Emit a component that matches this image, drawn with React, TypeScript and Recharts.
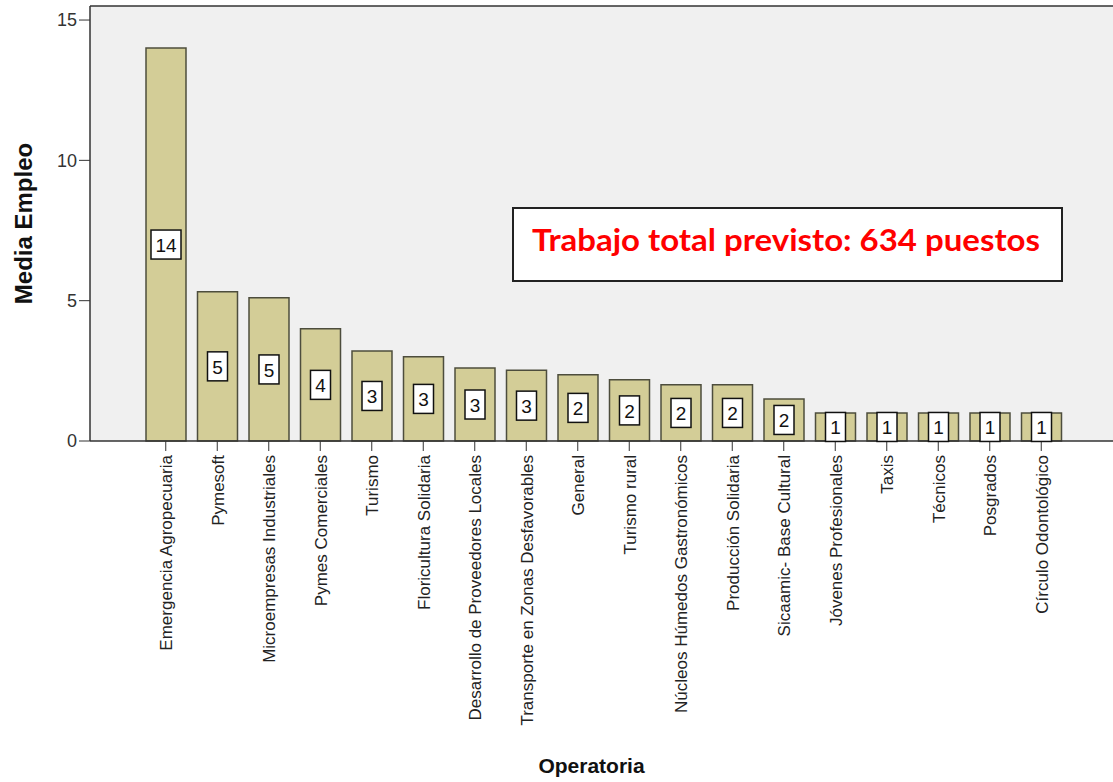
import React from 'react';
import { BarChart, Bar, XAxis, YAxis, CartesianGrid, ReferenceLine, LabelList } from 'recharts';

const categories = [
  'Emergencia Agropecuaria',
  'Pymesoft',
  'Microempresas Industriales',
  'Pymes Comerciales',
  'Turismo',
  'Floricultura Solidaria',
  'Desarrollo de Proveedores Locales',
  'Transporte en Zonas Desfavorables',
  'General',
  'Turismo rural',
  'Núcleos Húmedos Gastronómicos',
  'Producción Solidaria',
  'Sicaamic- Base Cultural',
  'Jóvenes Profesionales',
  'Taxis',
  'Técnicos',
  'Posgrados',
  'Círculo Odontológico',
];

const meanEmployment = [14.0, 5.32, 5.1, 4.0, 3.21, 3.0, 2.6, 2.52, 2.36, 2.18, 2.0, 2.0, 1.5, 1.0, 1.0, 1.0, 1.0, 1.0];

const yTicks = [0, 5, 10, 15];
const yMax = 15.5;

const yTitle = 'Media Empleo';
const xTitle = 'Operatoria';
const annotationText = 'Trabajo total previsto: 634 puestos';

const data = categories.map((name, i) => ({ name, value: meanEmployment[i] }));

const FONT = '"Liberation Sans", Arial, sans-serif';

const ValueLabel = (props: any) => {
  const { x, y, width, height, value } = props;
  const label = String(Math.round(Number(value)));
  const w = label.length * 10 + 10;
  const h = 29;
  const cx = Number(x) + Number(width) / 2;
  const cy = Number(y) + Number(height) / 2;
  return (
    <g>
      <rect x={cx - w / 2} y={cy - h / 2} width={w} height={h} fill="#ffffff" stroke="#111111" strokeWidth={1.5} />
      <text x={cx} y={cy + 1} textAnchor="middle" dominantBaseline="central" fontSize={19} fill="#111111" fontFamily={FONT}>
        {label}
      </text>
    </g>
  );
};

const XTick = (props: any) => {
  const { x, y, payload } = props;
  return (
    <g transform={`translate(${x},${y})`}>
      <text transform="rotate(-90)" x={-2} y={0} dy="0.38em" textAnchor="end" fontSize={17} fill="#222222" fontFamily={FONT}>
        {payload.value}
      </text>
    </g>
  );
};

const YTitle = (props: any) => {
  const vb = props.viewBox || {};
  const cx = vb.x + 23;
  const cy = vb.y + vb.height / 2;
  return (
    <text x={cx} y={cy} transform={`rotate(-90 ${cx} ${cy})`} textAnchor="middle" dominantBaseline="central" fontSize={24} fontWeight="bold" fill="#111111" fontFamily={FONT}>
      {yTitle}
    </text>
  );
};

const XTitle = (props: any) => {
  const vb = props.viewBox || {};
  const cx = vb.x + vb.width / 2 - 10;
  const by = vb.y + vb.height - 9;
  return (
    <text x={cx} y={by} textAnchor="middle" fontSize={21} fontWeight="bold" fill="#111111" fontFamily={FONT}>
      {xTitle}
    </text>
  );
};

export default function App() {
  return (
    <div style={{ position: 'absolute', left: 0, top: 0, width: 1113, height: 782, background: '#ffffff', overflow: 'hidden' }}>
      <BarChart width={1113} height={782} data={data} margin={{ top: 6, right: 0, bottom: 0, left: 0 }} barSize={40}>
        <CartesianGrid fill="#f0f0f0" horizontal={false} vertical={false} />
        <ReferenceLine y={yMax} stroke="#333333" strokeWidth={1.5} />
        <XAxis
          dataKey="name"
          interval={0}
          tick={<XTick />}
          tickSize={10}
          tickLine={{ stroke: '#333333' }}
          axisLine={{ stroke: '#333333', strokeWidth: 1.5 }}
          height={341}
          padding={{ left: 50, right: 46 }}
          label={<XTitle />}
        />
        <YAxis
          domain={[0, yMax]}
          ticks={yTicks}
          width={90}
          tickSize={11}
          tickMargin={2}
          tickLine={{ stroke: '#333333' }}
          axisLine={{ stroke: '#333333', strokeWidth: 1.5 }}
          tick={{ fill: '#333333', fontSize: 18, fontFamily: FONT }}
          label={<YTitle />}
        />
        <Bar dataKey="value" fill="#d3cd97" stroke="#4d4d3d" strokeWidth={1.5} isAnimationActive={false}>
          <LabelList dataKey="value" content={<ValueLabel />} />
        </Bar>
      </BarChart>
      <svg style={{ position: 'absolute', left: 0, top: 0 }} width={1113} height={782} pointerEvents="none">
        <rect x={513} y={208} width={549} height={73} fill="#ffffff" stroke="#222222" strokeWidth={2} />
        <text x={532} y={251} fontSize={30} fontWeight="bold" fill="#ff0000" fontFamily="Lato, 'Open Sans', sans-serif" textLength={508} lengthAdjust="spacingAndGlyphs">
          {annotationText}
        </text>
      </svg>
    </div>
  );
}
